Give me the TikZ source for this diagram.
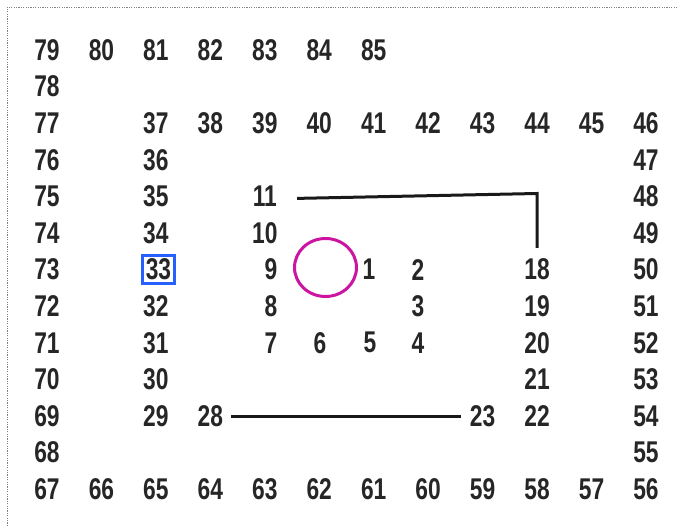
\documentclass[tikz,border=0pt]{standalone}
\usepackage{fontspec}
\usetikzlibrary{shapes.geometric}
\newfontfamily\numfont{Liberation Sans}[FakeStretch=0.76]
\definecolor{ringcol}{RGB}{204,20,160}
\definecolor{boxcol}{RGB}{40,95,255}
\definecolor{framecol}{RGB}{130,130,130}
\tikzset{
  num/.style={inner sep=0pt, font=\numfont\fontsize{30}{32}\selectfont\bfseries, text=black!85},
  conn/.style={line width=3pt, black!90},
  frame/.style={framecol, line width=0.9pt, dash pattern=on 1.2pt off 1.2pt}
}
\begin{document}
\begin{tikzpicture}[x=1pt,y=-1pt]
\useasboundingbox (0,0) rectangle (678,526);
\draw[frame] (7,526) -- (7,7) -- (678,7);
% outer and grid numbers: number/column/row
\foreach \n/\i/\j in {79/0/0,80/1/0,81/2/0,82/3/0,83/4/0,84/5/0,85/6/0,
  78/0/1,77/0/2,76/0/3,75/0/4,74/0/5,73/0/6,72/0/7,71/0/8,70/0/9,69/0/10,68/0/11,
  67/0/12,66/1/12,65/2/12,64/3/12,63/4/12,62/5/12,61/6/12,60/7/12,59/8/12,58/9/12,57/10/12,56/11/12,
  37/2/2,38/3/2,39/4/2,40/5/2,41/6/2,42/7/2,43/8/2,44/9/2,45/10/2,46/11/2,
  47/11/3,48/11/4,49/11/5,50/11/6,51/11/7,52/11/8,53/11/9,54/11/10,55/11/11,
  36/2/3,35/2/4,34/2/5,32/2/7,31/2/8,30/2/9,29/2/10,
  11/4/4,10/4/5,28/3/10,
  18/9/6,19/9/7,20/9/8,21/9/9,22/9/10,23/8/10}
  \node[num] (n\n) at ({47+54.45*\i},{50+36.6*\j}) {\n};
\node[num, draw=boxcol, line width=3pt, inner sep=3pt] (n33) at (158.5,269.6) {33};
\foreach \n/\x/\j in {9/271/6,8/271/7,7/271/8,6/320/8,5/370/8,4/418/8,3/418/7,2/418/6,1/369/6}
  \node[num] (n\n) at (\x,{50+36.6*\j}) {\n};
\node[draw=ringcol, line width=3pt, ellipse, minimum width=62pt, minimum height=58pt, inner sep=0pt] (ring) at (325.5,267.5) {};
\coordinate (c1) at (537.1,193.5);
\draw[conn, shorten >=11pt] ([xshift=20pt,yshift=-2pt]n11.east) -- (c1) -- (n18.north);
\draw[conn, shorten <=8pt, shorten >=9pt] ([yshift=-1pt]n28.east) -- ([yshift=-1pt]n23.west);
\end{tikzpicture}
\end{document}
